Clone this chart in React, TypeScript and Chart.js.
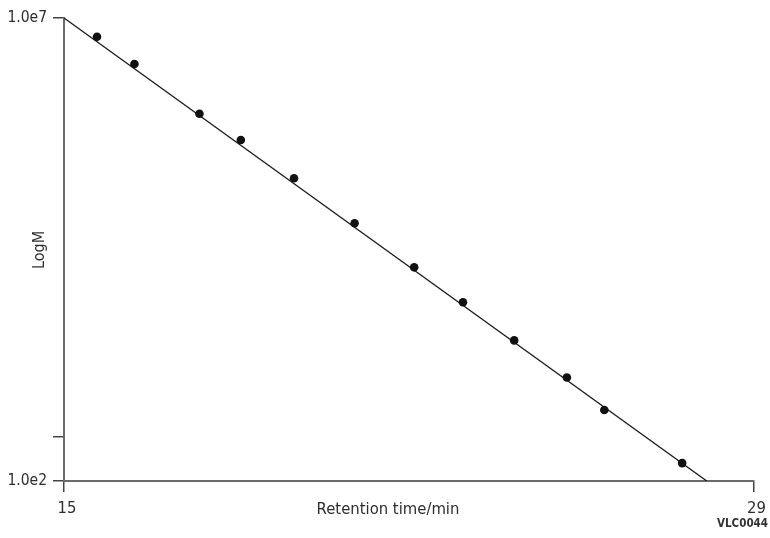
import React, { useEffect, useRef } from "react";
import { Chart, registerables } from "chart.js";

Chart.register(...registerables);

// Calibration points (retention time in min, molecular weight M)
const retentionTimes = [15.67, 16.43, 17.75, 18.59, 19.67, 20.9, 22.11, 23.1, 24.14, 25.21, 25.97, 27.55];
const molWeights = [6.28e6, 3.19e6, 9.26e5, 4.81e5, 1.86e5, 6.07e4, 2.03e4, 8.51e3, 3.3e3, 1.31e3, 585, 156];

// Fitted calibration line end points
const fitTimes = [15, 28.05];
const fitWeights = [1e7, 1e2];

// Axis ticks
const xTickValues = [15, 29];
const xTickLabels = ["15", "29"];
const yTickValues = [1e2, 3e2, 1e7];
const yTickLabels = ["1.0e2", "", "1.0e7"];

const xTitle = "Retention time/min";
const yTitle = "LogM";
const figureId = "VLC0044";

const FONT = "'DejaVu Sans Condensed', 'Liberation Sans Narrow', sans-serif";
const TEXT = "#2e2e2e";
const AXIS = "#6b6b6b";

export default function App() {
  const ref = useRef<HTMLCanvasElement | null>(null);

  useEffect(() => {
    if (!ref.current) return;
    const labelsPlugin = {
      id: "extraLabels",
      afterDraw(chart: any) {
        const ctx = chart.ctx;
        ctx.save();
        ctx.fillStyle = TEXT;
        ctx.textAlign = "center";
        ctx.textBaseline = "middle";
        ctx.font = `16.5px ${FONT}`;
        ctx.fillText(xTitle, 388, 510);
        ctx.save();
        ctx.translate(40, 250);
        ctx.rotate(-Math.PI / 2);
        ctx.font = `16px ${FONT}`;
        ctx.fillText(yTitle, 0, 0);
        ctx.restore();
        ctx.textAlign = "right";
        ctx.font = `bold 11.5px ${FONT}`;
        ctx.fillStyle = "#333";
        ctx.fillText(figureId, 768, 524);
        ctx.restore();
      },
    };

    const chart = new Chart(ref.current, {
      type: "scatter",
      data: {
        datasets: [
          {
            label: "fit",
            data: fitTimes.map((x, i) => ({ x, y: fitWeights[i] })),
            showLine: true,
            borderColor: "#1a1a1a",
            borderWidth: 1.3,
            pointRadius: 0,
            order: 2,
          },
          {
            label: "standards",
            data: retentionTimes.map((x, i) => ({ x, y: molWeights[i] })),
            showLine: false,
            backgroundColor: "#111",
            borderColor: "#111",
            pointRadius: 4.3,
            pointBorderWidth: 0,
            order: 1,
          },
        ],
      },
      options: {
        responsive: false,
        animation: false,
        layout: { padding: { top: 18, right: 11, left: 0, bottom: 0 } },
        plugins: {
          legend: { display: false },
          tooltip: { enabled: false },
        },
        scales: {
          x: {
            type: "linear",
            min: 15,
            max: 29,
            afterBuildTicks: (scale: any) => {
              scale.ticks = xTickValues.map((v) => ({ value: v }));
            },
            afterFit: (scale: any) => {
              scale.height = 57;
            },
            ticks: {
              autoSkip: false,
              maxRotation: 0,
              padding: 7,
              labelOffset: 3,
              color: TEXT,
              font: { family: FONT, size: 16.5 },
              callback: (v: any) => {
                const i = xTickValues.indexOf(Number(v));
                return i >= 0 ? xTickLabels[i] : "";
              },
            },
            grid: {
              drawOnChartArea: false,
              drawTicks: true,
              tickLength: 11,
              color: "#444",
              lineWidth: 1.5,
            },
            border: { display: true, color: AXIS, width: 2 },
          },
          y: {
            type: "logarithmic",
            min: 1e2,
            max: 1e7,
            afterBuildTicks: (scale: any) => {
              scale.ticks = yTickValues.map((v) => ({ value: v }));
            },
            afterFit: (scale: any) => {
              scale.width = 64;
            },
            ticks: {
              autoSkip: false,
              padding: 6,
              color: TEXT,
              font: { family: FONT, size: 15.5 },
              callback: (v: any) => {
                const i = yTickValues.indexOf(Number(v));
                return i >= 0 ? yTickLabels[i] : "";
              },
            },
            grid: {
              drawOnChartArea: false,
              drawTicks: true,
              tickLength: 11,
              color: "#444",
              lineWidth: 1.5,
            },
            border: { display: true, color: AXIS, width: 2 },
          },
        },
      },
      plugins: [labelsPlugin],
    });
    return () => chart.destroy();
  }, []);

  return (
    <div style={{ position: "absolute", left: 0, top: 0, width: 770, height: 538, background: "#fff" }}>
      <canvas ref={ref} width={770} height={538} style={{ width: 770, height: 538, display: "block" }} />
    </div>
  );
}
